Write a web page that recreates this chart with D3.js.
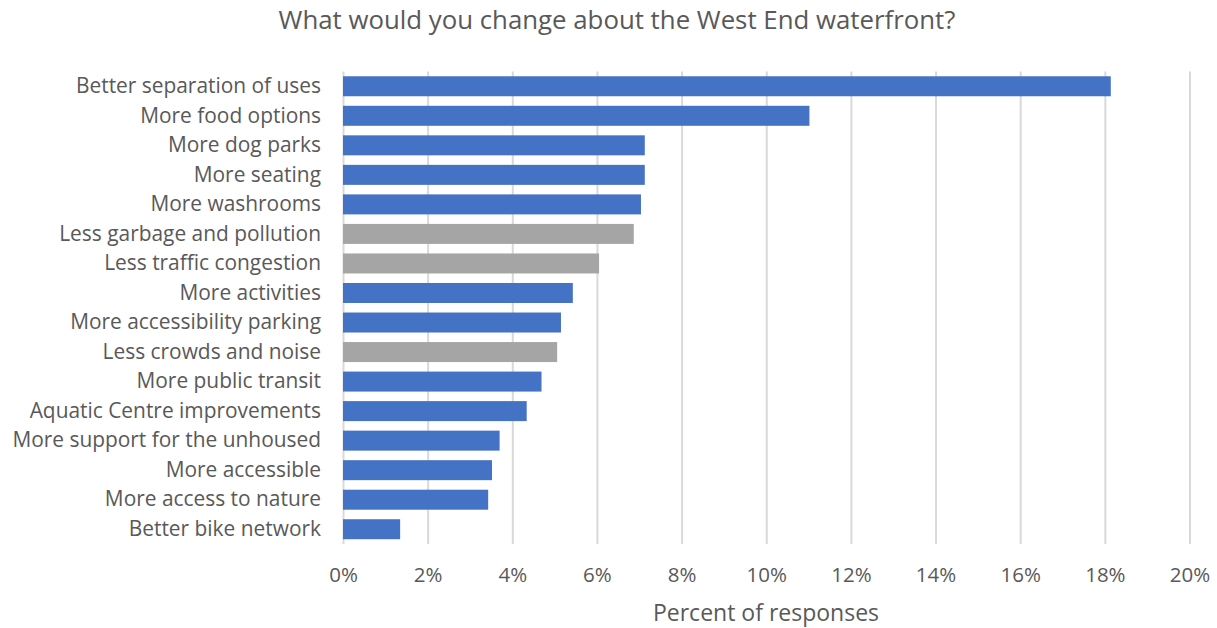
<!DOCTYPE html>
<html><head><meta charset="utf-8">
<script src="https://cdn.jsdelivr.net/npm/d3@7"></script>
<style>body{margin:0;background:#fff}svg{display:block}</style>
</head><body><svg id="c" width="1217" height="628"></svg>
<script>
const categories = ["Better separation of uses","More food options","More dog parks","More seating","More washrooms","Less garbage and pollution","Less traffic congestion","More activities","More accessibility parking","Less crowds and noise","More public transit","Aquatic Centre improvements","More support for the unhoused","More accessible","More access to nature","Better bike network"];
const values = [18.14,11.02,7.13,7.13,7.04,6.87,6.05,5.43,5.15,5.06,4.69,4.34,3.70,3.52,3.43,1.35];
const groups = ["more","more","more","more","more","less","less","more","more","less","more","more","more","more","more","more"];
const ticks = [0,2,4,6,8,10,12,14,16,18,20];
const title = "What would you change about the West End waterfront?";
const xTitle = "Percent of responses";

(function(){
const font = "'Open Sans', sans-serif";
const svg = d3.select("#c");
const pL = 343, pR = 1189.5, pT = 71.5, pB = 544;
const x = d3.scaleLinear().domain([0,20]).range([pL,pR]);
const y = d3.scaleBand().domain(categories).range([pT,pB]).paddingInner(0.323).paddingOuter(0.1615);
const color = d3.scaleOrdinal().domain(["more","less"]).range(["#4472C4","#A5A5A5"]);

svg.append("text").attr("x",617).attr("y",29).attr("text-anchor","middle")
  .attr("font-family",font).attr("font-size",25.8).attr("fill","#595959").text(title);

const gx = svg.append("g").attr("transform",`translate(0,${pB})`)
  .call(d3.axisBottom(x).tickValues(ticks).tickSize(-(pB-pT)).tickFormat(d=>d+"%").tickPadding(23));
gx.select(".domain").remove();
gx.selectAll(".tick line").attr("stroke","#D9D9D9").attr("stroke-width",2);
gx.selectAll(".tick text").attr("font-family",font).attr("font-size",20.5).attr("fill","#595959");

svg.append("g").selectAll("rect").data(categories).join("rect")
  .attr("x",x(0)).attr("y",d=>y(d)).attr("height",y.bandwidth())
  .attr("width",(d,i)=>x(values[i])-x(0)).attr("fill",(d,i)=>color(groups[i]));

const gy = svg.append("g").attr("transform",`translate(${pL},0)`)
  .call(d3.axisLeft(y).tickSize(0).tickPadding(22));
gy.select(".domain").remove();
gy.selectAll(".tick text").attr("font-family",font).attr("font-size",20.9).attr("fill","#595959");

svg.append("text").attr("x",766).attr("y",621).attr("text-anchor","middle")
  .attr("font-family",font).attr("font-size",23).attr("fill","#595959").text(xTitle);
})();
</script></body></html>
